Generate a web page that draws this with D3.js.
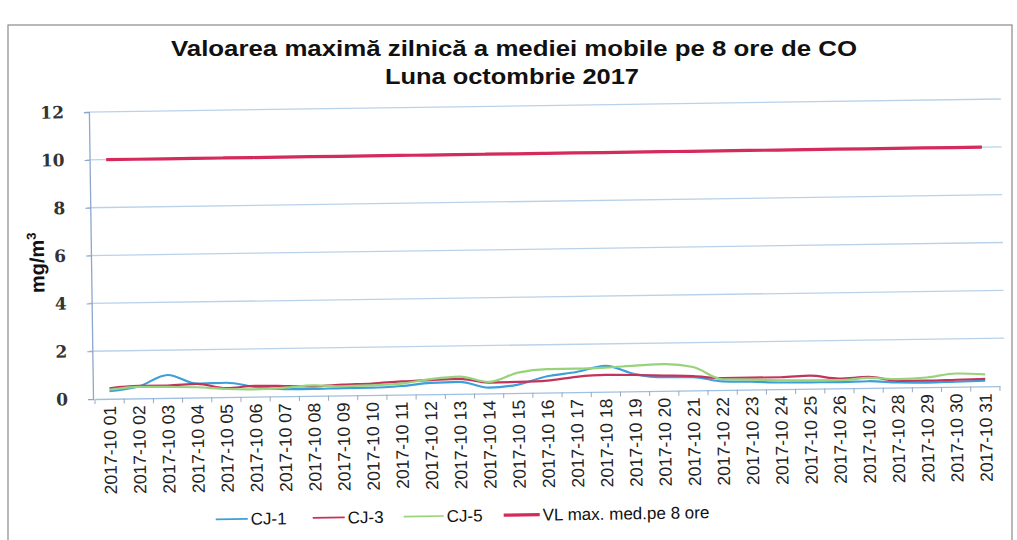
<!DOCTYPE html>
<html><head><meta charset="utf-8">
<script src="https://cdn.jsdelivr.net/npm/d3@7"></script>
<style>body{margin:0;background:#fff}svg{display:block}</style>
</head><body>
<script>
const days = ["01","02","03","04","05","06","07","08","09","10","11","12","13","14","15","16","17","18","19","20","21","22","23","24","25","26","27","28","29","30","31"];
const categories = days.map(d => "2017-10 " + d);
const cj1 = [0.32,0.5,0.96,0.58,0.6,0.41,0.3,0.29,0.31,0.31,0.36,0.47,0.5,0.24,0.35,0.68,0.84,1.08,0.72,0.57,0.56,0.36,0.33,0.28,0.27,0.26,0.28,0.21,0.19,0.21,0.23];
const cj3 = [0.44,0.52,0.52,0.57,0.38,0.45,0.43,0.4,0.45,0.48,0.55,0.59,0.62,0.45,0.46,0.5,0.64,0.7,0.68,0.64,0.6,0.5,0.5,0.5,0.55,0.41,0.46,0.28,0.27,0.29,0.31];
const cj5 = [0.38,0.48,0.46,0.43,0.34,0.31,0.36,0.44,0.38,0.41,0.46,0.63,0.72,0.48,0.85,0.98,0.98,1.01,1.07,1.12,0.98,0.45,0.42,0.37,0.35,0.34,0.42,0.35,0.4,0.55,0.5];
const vl = categories.map(() => 10);
const yTicks = [0,2,4,6,8,10,12];
const seriesNames = ["CJ-1","CJ-3","CJ-5","VL max. med.pe 8 ore"];

const W = 1017, H = 540;
const svg = d3.select("body").append("svg").attr("width", W).attr("height", H);
const m = {left: 95, right: 1000, top: 112, bottom: 399};

// outer frame
svg.append("rect").attr("x", 8).attr("y", 25).attr("width", 1004).attr("height", 530)
  .attr("fill", "none").attr("stroke", "#8a8a8a").attr("stroke-width", 1.2);

// title
const title = svg.append("text").attr("text-anchor", "middle")
  .attr("font-family", "Liberation Sans, Arial, sans-serif").attr("font-weight", "bold")
  .attr("font-size", 22).attr("fill", "#111");
title.append("tspan").attr("x", 514).attr("y", 56)
  .attr("textLength", 686).attr("lengthAdjust", "spacingAndGlyphs")
  .text("Valoarea maximă zilnică a mediei mobile pe 8 ore de CO");
title.append("tspan").attr("x", 512).attr("y", 84)
  .attr("textLength", 254).attr("lengthAdjust", "spacingAndGlyphs")
  .text("Luna octombrie 2017");

const g = svg.append("g").attr("transform", `rotate(-0.82, ${m.left}, ${m.bottom})`);

const x = d3.scaleBand().domain(categories).range([m.left, m.right]);
const y = d3.scaleLinear().domain([0, 12]).range([m.bottom, m.top]);

// gridlines
g.append("g").selectAll("line").data(yTicks.filter(t => t > 0)).join("line")
  .attr("x1", m.left - 5).attr("x2", m.right + 5)
  .attr("y1", d => y(d)).attr("y2", d => y(d))
  .attr("stroke", "#b9d2ea").attr("stroke-width", 1.3);

// y axis
const yAxis = g.append("g").attr("transform", `translate(${m.left - 2},0)`)
  .call(d3.axisLeft(y).tickValues(yTicks).tickSize(5).tickPadding(20));
yAxis.select(".domain").attr("stroke", "#8ea6cc").attr("stroke-width", 1.3);
yAxis.selectAll(".tick line").attr("stroke", "#8ea6cc");
yAxis.selectAll("text").attr("font-family", "DejaVu Serif, serif").attr("font-size", 17)
  .attr("font-weight", "bold").attr("fill", "#333");

// x axis
const xAxis = g.append("g").attr("transform", `translate(0,${m.bottom})`)
  .call(d3.axisBottom(x).tickSize(0).tickPadding(6));
xAxis.select(".domain").attr("stroke", "#9fc0e0").attr("stroke-width", 1.3);
xAxis.selectAll("text")
  .attr("transform", "rotate(-90)").attr("text-anchor", "end")
  .attr("x", -7).attr("y", 0).attr("dy", "0.35em")
  .attr("font-family", "Liberation Sans, Arial, sans-serif").attr("font-size", 17.5).attr("fill", "#222");
// boundary ticks
g.append("g").selectAll("line").data(d3.range(categories.length + 1)).join("line")
  .attr("x1", i => m.left + i * x.step()).attr("x2", i => m.left + i * x.step())
  .attr("y1", m.bottom).attr("y2", m.bottom + 5).attr("stroke", "#9aa8bb");

const cx = d => x(d) + x.bandwidth() / 2;
const line = d3.line().x((v, i) => cx(categories[i])).y(v => y(v)).curve(d3.curveMonotoneX);

const series = [
  {vals: cj1, color: "#3c9fd9", w: 2.2},
  {vals: cj3, color: "#c4335c", w: 2.2},
  {vals: cj5, color: "#98d27a", w: 2.2},
  {vals: vl, color: "#d42a5c", w: 3.2}
];
series.forEach(s => {
  g.append("path").attr("d", line(s.vals)).attr("fill", "none")
    .attr("stroke", s.color).attr("stroke-width", s.w);
});

// y label
g.append("text").attr("transform", "translate(46,262) rotate(-90)").attr("text-anchor", "middle")
  .attr("font-family", "Liberation Sans, Arial, sans-serif").attr("font-weight", "bold")
  .attr("font-size", 20).attr("fill", "#111")
  .text("mg/m").append("tspan").attr("dy", -8).attr("font-size", 13).text("3");

// legend
const legX = [214, 311, 402, 502];
const legLen = [32, 32, 40, 36];
const lg = g.append("g");
seriesNames.forEach((n, i) => {
  lg.append("line").attr("x1", legX[i]).attr("x2", legX[i] + legLen[i]).attr("y1", 521).attr("y2", 521)
    .attr("stroke", series[i].color).attr("stroke-width", i === 3 ? 3.2 : (i === 2 ? 1.6 : 1.8));
  lg.append("text").attr("x", legX[i] + legLen[i] + 3).attr("y", 527)
    .attr("font-family", "Liberation Sans, Arial, sans-serif").attr("font-size", 17).attr("fill", "#111")
    .text(n);
});
</script>
</body></html>
